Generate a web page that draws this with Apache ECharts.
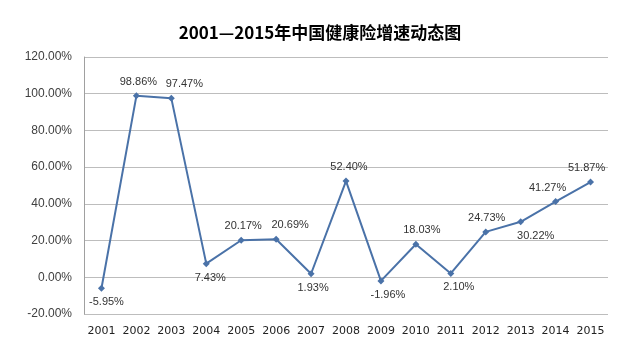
<!DOCTYPE html>
<html><head><meta charset="utf-8">
<script src="https://cdn.jsdelivr.net/npm/echarts@6/dist/echarts.min.js"></script>
<style>html,body{margin:0;padding:0;background:#fff}#c{width:640px;height:356px}</style>
</head><body><div id="c"></div>
<script>
var years = ['2001','2002','2003','2004','2005','2006','2007','2008','2009','2010','2011','2012','2013','2014','2015'];
var growth = [-5.95, 98.86, 97.47, 7.43, 20.17, 20.69, 1.93, 52.40, -1.96, 18.03, 2.10, 24.73, 30.22, 41.27, 51.87];
var labelPos = ['bottom','top','top','bottom','top','top','bottom','top','bottom','top','bottom','top','bottom','top','top'];
var labelShiftX = [5, 2, 13, 4, 2, 14, 2, 3, 7, 6, 8, 1, 15, -8, -4];
var yTicks = [-20, 0, 20, 40, 60, 80, 100, 120];

var chart = echarts.init(document.getElementById('c'));
chart.setOption({
  backgroundColor: '#fff',
  animation: false,
  title: {
    text: '2001—2015年中国健康险增速动态图',
    left: 'center', top: 19,
    textStyle: { fontFamily: 'Noto Sans CJK SC', fontSize: 17, fontWeight: 'bold', color: '#000' }
  },
  grid: { left: 84, right: 32, top: 57, bottom: 42 },
  xAxis: {
    type: 'category', data: years, boundaryGap: true,
    axisLine: { show: false },
    axisTick: { show: false },
    axisLabel: { fontFamily: 'DejaVu Sans', fontSize: 11, color: '#222', margin: 12, interval: 0 }
  },
  yAxis: {
    type: 'value', min: yTicks[0], max: yTicks[yTicks.length - 1], interval: 20,
    axisLine: { show: true, lineStyle: { color: '#a0a0a0' } },
    axisTick: { show: false },
    splitLine: { lineStyle: { color: '#bdbdbd', width: 1 } },
    axisLabel: { fontFamily: 'Liberation Sans', fontSize: 12, color: '#404040', margin: 12,
      formatter: function (v) { return v.toFixed(2) + '%'; } }
  },
  series: [{
    type: 'line',
    data: growth.map(function (v, i) {
      return { value: v, label: { position: labelPos[i], offset: [labelShiftX[i], 0] } };
    }),
    symbol: 'diamond', symbolSize: 7,
    lineStyle: { color: '#4a72a8', width: 2 },
    itemStyle: { color: '#4a72a8' },
    label: {
      show: true, fontFamily: 'Liberation Sans', fontSize: 11, color: '#333', distance: 5,
      formatter: function (p) { return p.value.toFixed(2) + '%'; }
    }
  }]
});
</script></body></html>
